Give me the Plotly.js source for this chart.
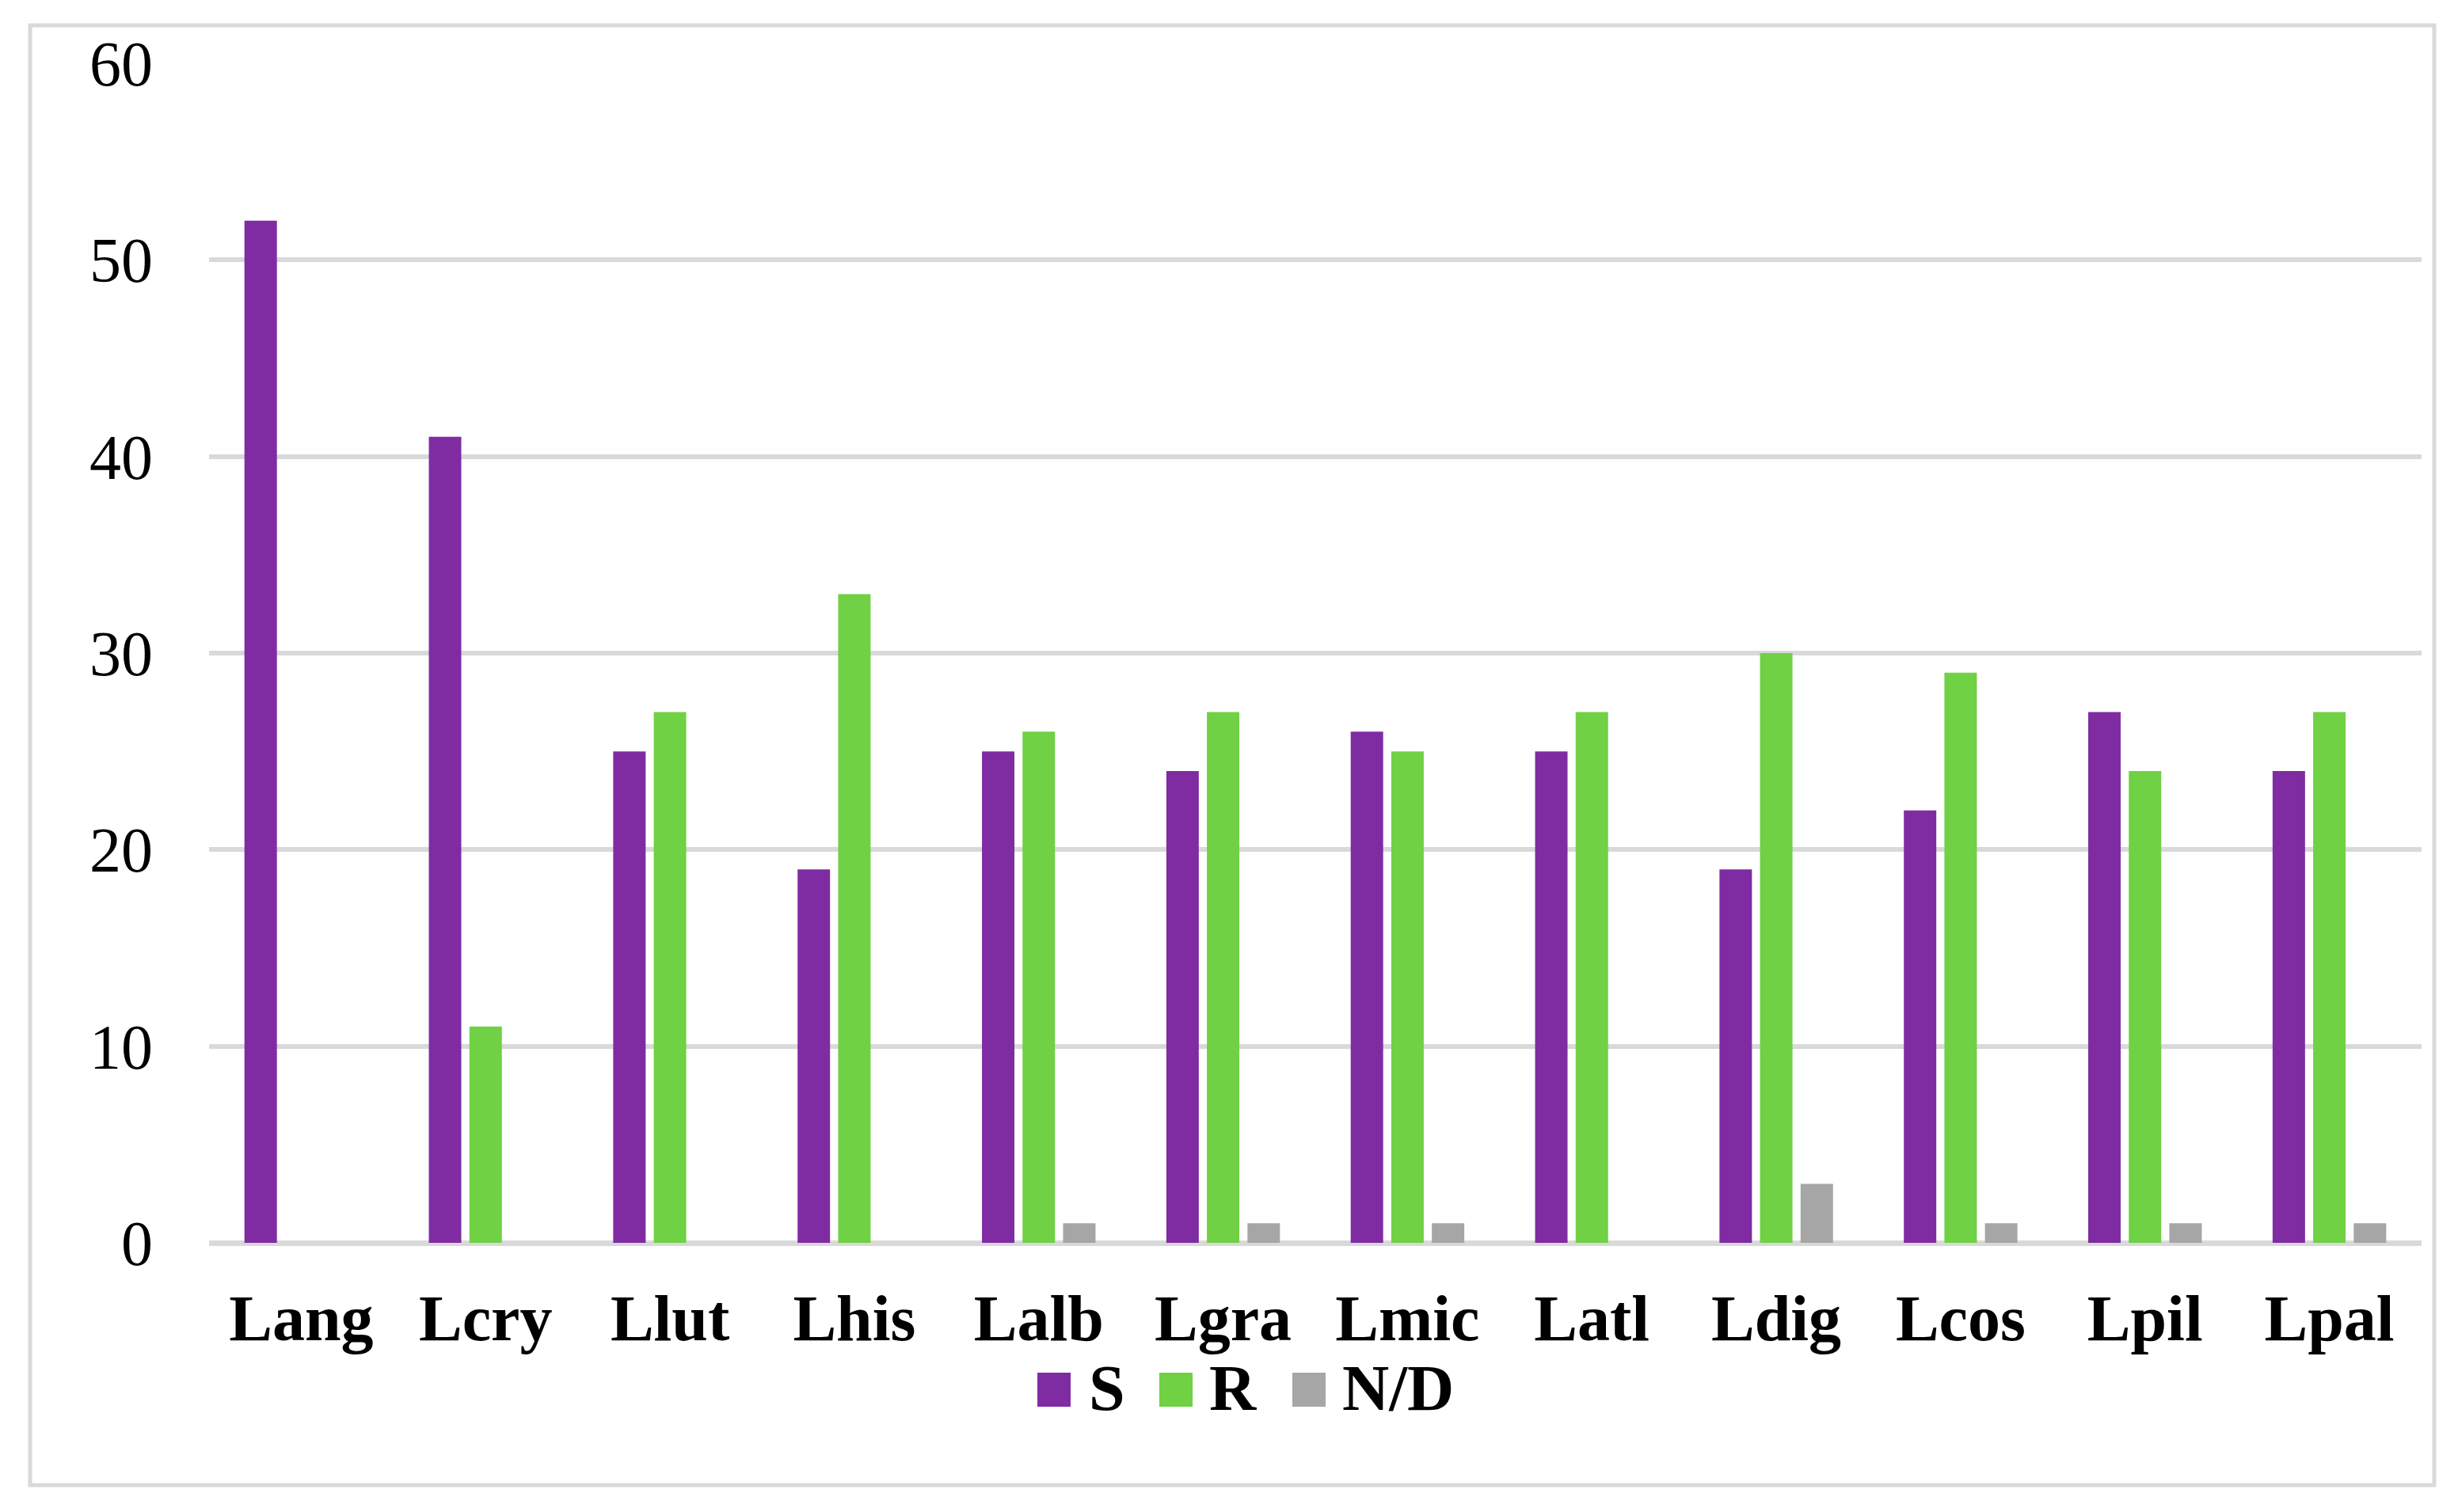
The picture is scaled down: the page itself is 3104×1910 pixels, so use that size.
<!DOCTYPE html>
<html>
<head>
<meta charset="utf-8">
<script src="https://cdn.plot.ly/plotly-3.0.1.min.js"></script>
<style>
  html, body { margin: 0; padding: 0; background: #ffffff; }
  #chart { width: 3104px; height: 1910px; }
</style>
</head>
<body>
<div id="chart"></div>
<script>
const species = ["Lang", "Lcry", "Llut", "Lhis", "Lalb", "Lgra", "Lmic", "Latl", "Ldig", "Lcos", "Lpil", "Lpal"];
const valuesS = [52, 41, 25, 19, 25, 24, 26, 25, 19, 22, 27, 24];
const valuesR = [0, 11, 27, 33, 26, 27, 25, 27, 30, 29, 24, 27];
const valuesND = [0, 0, 0, 0, 1, 1, 1, 0, 3, 1, 1, 1];
const seriesNames = ["S", "R", "N/D"];
const seriesColors = ["#7F2CA3", "#6FD143", "#A6A6A6"];
const yTicks = [0, 10, 20, 30, 40, 50, 60];

const W = 3104, H = 1910;
const M = { l: 264, r: 46, t: 80, b: 340 };
const plotW = W - M.l - M.r;
const plotH = H - M.t - M.b;
const FONT = '"Liberation Serif", "Times New Roman", serif';

// pixel -> paper fraction helpers
function px_x(px) { return (px - M.l) / plotW; }
function px_y(py) { return (H - M.b - py) / plotH; }

const seriesValues = [valuesS, valuesR, valuesND];
const data = seriesNames.map((name, k) => ({
  type: "bar",
  name: name,
  x: species,
  y: seriesValues[k],
  marker: { color: seriesColors[k] },
  hoverinfo: "x+y+name",
}));

// custom legend: big square swatches + bold labels
const legendSwatchX = [1310, 1464, 1632];
const legendTextX = [1373, 1525, 1693];
const legendTop = 1734, legendSize = 43;

const shapes = [
  {
    type: "rect", xref: "paper", yref: "paper",
    x0: px_x(38), x1: px_x(3074), y0: px_y(1876), y1: px_y(32),
    line: { color: "#D9D9D9", width: 5 }, fillcolor: "rgba(0,0,0,0)",
    layer: "below",
  },
];
const annotations = [];
seriesNames.forEach((name, k) => {
  shapes.push({
    type: "rect", xref: "paper", yref: "paper",
    x0: px_x(legendSwatchX[k]), x1: px_x(legendSwatchX[k] + legendSize - 1),
    y0: px_y(legendTop + legendSize), y1: px_y(legendTop),
    line: { width: 0 }, fillcolor: seriesColors[k],
  });
  annotations.push({
    xref: "paper", yref: "paper",
    x: px_x(legendTextX[k]), y: px_y(legendTop + legendSize / 2 - 2),
    xanchor: "left", yanchor: "middle",
    text: "<b>" + name + "</b>",
    showarrow: false,
    font: { family: FONT, size: 82, color: "#000000" },
  });
});

const layout = {
  width: W,
  height: H,
  margin: M,
  paper_bgcolor: "#ffffff",
  plot_bgcolor: "#ffffff",
  barmode: "group",
  bargap: 0.34,
  bargroupgap: 0.2,
  showlegend: false,
  font: { family: FONT, color: "#000000" },
  xaxis: {
    type: "category",
    tickvals: species,
    ticktext: species.map((s) => "<b>" + s + "</b>"),
    tickfont: { family: FONT, size: 82, color: "#000000" },
    ticks: "",
    ticklabelstandoff: 40,
    showgrid: false,
    showline: false,
    zeroline: false,
  },
  yaxis: {
    range: [0, 60],
    tickvals: yTicks,
    ticktext: yTicks.map(String),
    tickfont: { family: FONT, size: 80, color: "#000000" },
    ticks: "",
    ticklabelstandoff: 70,
    showgrid: true,
    gridcolor: "#D9D9D9",
    gridwidth: 6,
    zeroline: true,
    zerolinecolor: "#D9D9D9",
    zerolinewidth: 7,
    showline: false,
  },
  shapes: shapes,
  annotations: annotations,
};

Plotly.newPlot("chart", data, layout, { displayModeBar: false, staticPlot: true });
</script>
</body>
</html>
